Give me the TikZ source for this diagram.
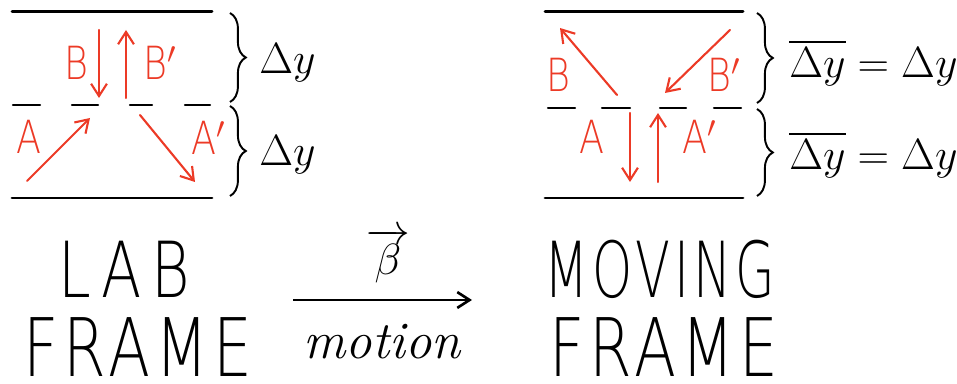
\documentclass[tikz,border=0pt]{standalone}
\usepackage{amsmath, amssymb}
\usepackage{fontspec}
\usepackage{tikz}
\usetikzlibrary{calc, arrows.meta, decorations.pathreplacing}
\newfontfamily\letterfont[FakeStretch=0.8]{DejaVu Sans ExtraLight}
\newfontfamily\labfont[FakeStretch=0.76, LetterSpace=12]{DejaVu Sans ExtraLight}
\newfontfamily\framefont[FakeStretch=0.76, LetterSpace=6]{DejaVu Sans ExtraLight}
\newfontfamily\movingfont[FakeStretch=0.66, LetterSpace=5]{DejaVu Sans ExtraLight}
\definecolor{handred}{RGB}{236,58,38}

\begin{document}
\begin{tikzpicture}[x=0.02cm, y=-0.02cm, >={Straight Barb[length=7pt, width=9pt]}]
    % Styles for walls, photons and labels
    \tikzset{
        wall/.style={line width=1.7pt, line cap=round},
        midwall/.style={line width=1.2pt, line cap=round},
        photon/.style={->, handred, line width=1.2pt, line cap=round},
        redlabel/.style={handred, font=\letterfont\fontsize{26}{26}\selectfont, inner sep=0pt},
        framelabel/.style={anchor=base, inner sep=0pt},
        gap/.style={decorate, decoration={brace, amplitude=9pt}, line width=1.1pt},
        gaplabel/.style={font=\fontsize{23}{23}\selectfont, anchor=west, inner sep=0pt}
    }
    \useasboundingbox (0,0) rectangle (957,384);

    % 1. Lab frame: walls and middle line
    \draw[wall] (12,12) -- (212,12);
    \draw[wall] (12,198) -- (212,198);
    \foreach \a/\b in {13/40, 72/98, 130/152, 185/210}
        \draw[midwall] (\a,105) -- (\b,105);

    % 2. Lab frame: photons
    \draw[photon] (99,30) -- (99,98);
    \draw[photon] (126,98) -- (126,30);
    \draw[photon] (27,181) -- (90,118);
    \draw[photon] (140,115) -- (195,182);
    \node[redlabel] (labB) at (76,63) {B};
    \node[redlabel] (labBp) at (160,63) {B$'$};
    \node[redlabel] (labA) at (29,137) {A};
    \node[redlabel] (labAp) at (209,138) {A$'$};

    % 3. Lab frame: braces
    \draw[gap] (230,13) -- (230,102);
    \draw[gap] (230,106) -- (230,196);
    \node[gaplabel] (dyone) at (259,63) {$\Delta y$};
    \node[gaplabel] (dytwo) at (259,155) {$\Delta y$};

    % 4. Moving frame: walls and middle line
    \draw[wall] (545,12) -- (743,12);
    \draw[wall] (545,198) -- (743,198);
    \foreach \a/\b in {548/575, 602/630, 660/686, 714/741}
        \draw[midwall] (\a,108) -- (\b,108);

    % 5. Moving frame: photons
    \draw[photon] (617,95) -- (560,28);
    \draw[photon] (730,30) -- (665,93);
    \draw[photon] (630,113) -- (630,182);
    \draw[photon] (658,182) -- (658,113);
    \node[redlabel] (movB) at (558,75) {B};
    \node[redlabel] (movBp) at (724,75) {B$'$};
    \node[redlabel] (movA) at (592,137) {A};
    \node[redlabel] (movAp) at (700,137) {A$'$};

    % 6. Moving frame: braces
    \draw[gap] (757,13) -- (757,103);
    \draw[gap] (757,109) -- (757,196);
    \node[gaplabel] (mdyone) at (789,63) {$\overline{\Delta y} = \Delta y$};
    \node[gaplabel] (mdytwo) at (789,155) {$\overline{\Delta y} = \Delta y$};

    % 7. Frame names and motion arrow
    \node[framelabel, font=\labfont\fontsize{44}{44}\selectfont] (lab) at (124,298) {LAB};
    \node[framelabel, font=\framefont\fontsize{46}{46}\selectfont] (labframe) at (138,377) {FRAME};
    \node[framelabel, font=\movingfont\fontsize{44}{44}\selectfont] (moving) at (660,298) {MOVING};
    \node[framelabel, font=\framefont\fontsize{46}{46}\selectfont] (movframe) at (664,377) {FRAME};
    \coordinate (mstart) at (293,300);
    \coordinate (mend) at (472,300);
    \draw[->, line width=1.5pt] (mstart) -- (mend);
    \node[font=\fontsize{30}{30}\selectfont] (beta) at (388,256) {$\overrightarrow{\beta}$};
    \node[font=\fontsize{30}{30}\selectfont\itshape] (motion) at (382,342) {motion};
\end{tikzpicture}
\end{document}
